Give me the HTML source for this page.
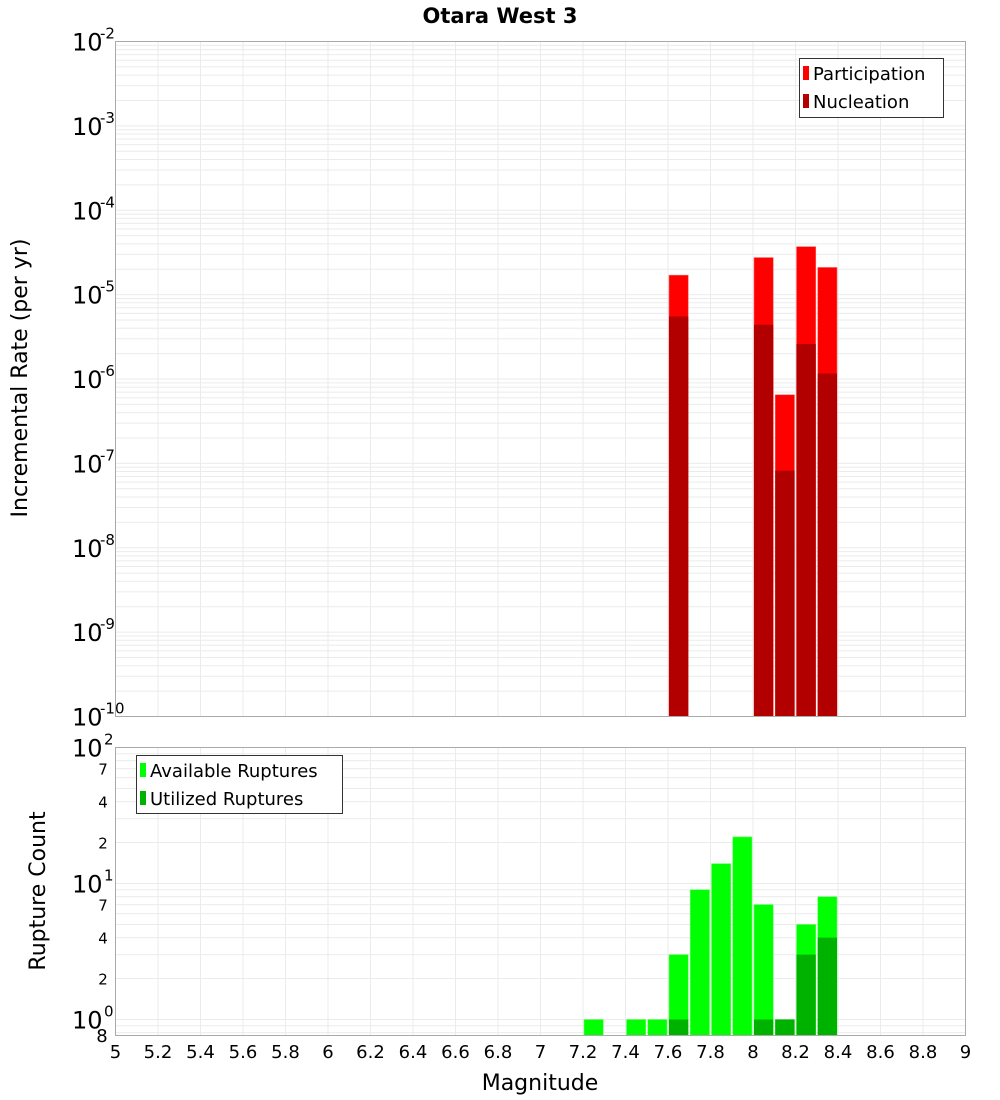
<!DOCTYPE html>
<html><head><meta charset="utf-8"><style>
body{margin:0;background:#fff}
svg{display:block;font-family:"DejaVu Sans","Liberation Sans",sans-serif}
</style></head><body>
<svg id="chart" width="1000" height="1100" xmlns="http://www.w3.org/2000/svg">
<text x="500" y="23" text-anchor="middle" font-size="21" font-weight="bold">Otara West 3</text>
<g id="topPanel"></g>
<g id="botPanel"></g>
<text transform="translate(27,378) rotate(-90)" text-anchor="middle" font-size="22">Incremental Rate (per yr)</text>
<text transform="translate(45,891) rotate(-90)" text-anchor="middle" font-size="22">Rupture Count</text>
<text x="540" y="1090" text-anchor="middle" font-size="22">Magnitude</text>
<g>
<rect x="799.5" y="58.5" width="144" height="59" fill="#fff" stroke="#333"/>
<rect x="803" y="66" width="6" height="14" fill="#ff0000"/>
<text x="813" y="80" font-size="18">Participation</text>
<rect x="803" y="94" width="6" height="14" fill="#b20000"/>
<text x="813" y="108" font-size="18">Nucleation</text>
</g>
<g>
<rect x="136.5" y="755.5" width="206" height="58" fill="#fff" stroke="#333"/>
<rect x="140" y="763" width="6" height="14" fill="#00ff00"/>
<text x="150" y="777" font-size="18">Available Ruptures</text>
<rect x="140" y="791" width="6" height="14" fill="#00b200"/>
<text x="150" y="805" font-size="18">Utilized Ruptures</text>
</g>
</svg>
<script>
const mags=[7.25,7.35,7.45,7.55,7.65,7.75,7.85,7.95,8.05,8.15,8.25,8.35];
const participation=[0,0,0,0,1.7e-5,0,0,0,2.75e-5,6.5e-7,3.7e-5,2.1e-5];
const nucleation=[0,0,0,0,5.5e-6,0,0,0,4.4e-6,8.2e-8,2.6e-6,1.16e-6];
const available=[1,0,1,1,3,9,14,22,7,1,5,8];
const utilized=[0,0,0,0,1,0,0,0,1,1,3,4];
const xTicks=[5,5.2,5.4,5.6,5.8,6,6.2,6.4,6.6,6.8,7,7.2,7.4,7.6,7.8,8,8.2,8.4,8.6,8.8,9];
const topExps=[-2,-3,-4,-5,-6,-7,-8,-9,-10];
const botMinorLabels=[2,4,7];

const NS="http://www.w3.org/2000/svg";
const L=115.5,R=965.5;
const X=m=>L+(m-5)/4*(R-L);
const T0=41.5,T1=716.5,B0=747.5,B1=1035.5;
const Yt=v=>T0+(-2-Math.log10(v))/8*(T1-T0);
const bdec=136;
const Yb=v=>B0+(2-Math.log10(v))*bdec;
function mk(p,tag,a,txt){const e=document.createElementNS(NS,tag);for(const k in a)e.setAttribute(k,a[k]);if(txt!==undefined)e.textContent=txt;p.appendChild(e);return e;}
const gTop=document.getElementById('topPanel'),gBot=document.getElementById('botPanel');

for(const m of xTicks){
 const g1=mk(gTop,'line',{x1:X(m),x2:X(m),y1:T0,y2:T1,stroke:'#ebebeb'});
 
 
 const g2=mk(gBot,'line',{x1:X(m),x2:X(m),y1:B0,y2:B1,stroke:'#ebebeb'});
 
 
}
for(let e=-10;e<-2;e++)for(let k=1;k<10;k++){
 const y=Yt(k*Math.pow(10,e));
 const g=mk(gTop,'line',{x1:L,x2:R,y1:y,y2:y,stroke:'#ebebeb'});
 
 
}
for(let e=-1;e<2;e++)for(let k=1;k<10;k++){
 const v=k*Math.pow(10,e);const y=Yb(v);
 if(y>B1||y<B0)continue;
 const g=mk(gBot,'line',{x1:L,x2:R,y1:y,y2:y,stroke:'#ebebeb'});
 
 
}
const bw=(X(5.1)-X(5))-2;
mags.forEach((m,i)=>{
 const x=X(m)-bw/2;
 if(participation[i]>0){const r=mk(gTop,'rect',{x:x,y:Yt(participation[i]),width:bw,height:T1-Yt(participation[i]),fill:'#ff0000',stroke:'#ff6666','stroke-width':0.6});
  
  }
 if(nucleation[i]>0){const r=mk(gTop,'rect',{x:x,y:Yt(nucleation[i]),width:bw,height:T1-Yt(nucleation[i]),fill:'#b20000'});
  
  }
 if(available[i]>0){const r=mk(gBot,'rect',{x:x,y:Yb(available[i]),width:bw,height:B1-Yb(available[i]),fill:'#00ff00',stroke:'#66ff66','stroke-width':0.6});
  
  }
 if(utilized[i]>0){const r=mk(gBot,'rect',{x:x,y:Yb(utilized[i]),width:bw,height:B1-Yb(utilized[i]),fill:'#00b200'});
  
  }
});
const f1=mk(gTop,'rect',{x:L,y:T0,width:R-L,height:T1-T0,fill:'none',stroke:'#aaa'});


const f2=mk(gBot,'rect',{x:L,y:B0,width:R-L,height:B1-B0,fill:'none',stroke:'#aaa'});


for(const e of topExps){
 const y=Yt(Math.pow(10,e));
 const t=mk(gTop,'text',{x:72,y:y+9,'font-size':24},'10');
 
 
 const s=mk(gTop,'text',{x:100,y:y-3,'font-size':15},String(e));
 
 
}
[2,1,0].forEach(e=>{
 const y=Yb(Math.pow(10,e));
 const t=mk(gBot,'text',{x:72,y:y+9,'font-size':24},'10');
 
 
 const s=mk(gBot,'text',{x:104,y:y-3,'font-size':15},String(e));
 
 
});
[1,10].forEach(d=>botMinorLabels.forEach(k=>{
 const y=Yb(k*d);
 const t=mk(gBot,'text',{x:103,y:y+6,'font-size':15,'text-anchor':'middle'},String(k));
 
 
}));
const e8=mk(gBot,'text',{x:102,y:1042,'font-size':18,'text-anchor':'middle'},'8');


for(const m of xTicks){
 const t=mk(gBot,'text',{x:X(m),y:1058,'font-size':18,'text-anchor':'middle'},String(m));
 
 
}
</script>
</body></html>
